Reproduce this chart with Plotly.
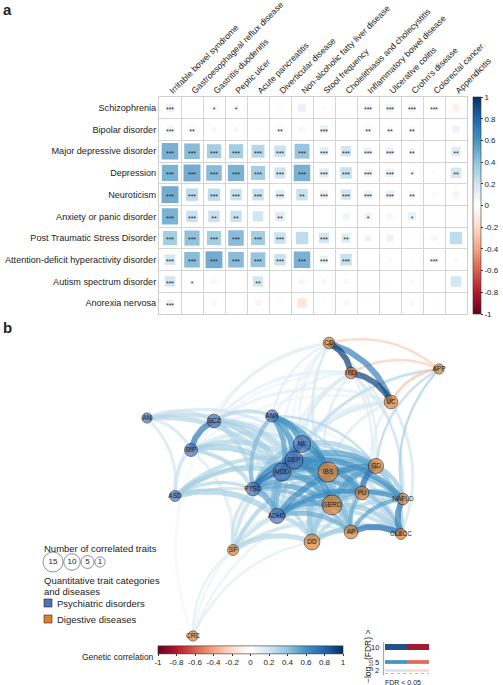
import numpy as np
import plotly.graph_objects as go
from plotly.colors import sample_colorscale

# ---- data ----
psych_names = ["Schizophrenia", "Bipolar disorder", "Major depressive disorder", "Depression",
               "Neuroticism", "Anxiety or panic disorder", "Post Traumatic Stress Disorder",
               "Attention-deficit hyperactivity disorder", "Autism spectrum disorder", "Anorexia nervosa"]
psych_abbr = ["SCZ", "BIP", "MDD", "DEP", "NE", "ANX", "PTSD", "ADHD", "ASD", "AN"]

digest_names = ["Irritable bowel syndrome", "Gastroesophageal reflux disease", "Gastritis-duodenitis",
                "Peptic ulcer", "Acute pancreatitis", "Diverticular disease",
                "Non-alcoholic fatty liver disease", "Stool frequency",
                "Cholelithiasis and cholecystitis", "Inflammatory bowel disease", "Ulcerative colitis",
                "Crohn's disease", "Colorectal cancer", "Appendicitis"]
digest_abbr = ["IBS", "GERD", "GD", "PU", "AP", "DD", "NAFLD", "SF", "CL&CC", "IBD", "UC", "CD", "CRC", "APP"]

# genetic correlation, rows = psychiatric, cols = digestive
rg = [
    [0.14, 0.02, 0.08, 0.08, 0.02, 0.03, 0.14, 0.04, -0.02, 0.12, 0.12, 0.13, 0.05, -0.12],
    [0.10, 0.08, 0.06, 0.06, 0.04, 0.08, 0.08, 0.15, 0.00, 0.08, 0.08, 0.08, 0.00, 0.12],
    [0.62, 0.55, 0.45, 0.45, 0.38, 0.30, 0.50, 0.18, 0.25, 0.13, 0.14, 0.10, 0.01, 0.20],
    [0.60, 0.65, 0.55, 0.60, 0.45, 0.28, 0.62, 0.20, 0.30, 0.14, 0.15, 0.08, 0.03, 0.25],
    [0.65, 0.35, 0.35, 0.30, 0.30, 0.20, 0.30, 0.15, 0.25, 0.15, 0.15, 0.10, 0.05, 0.10],
    [0.60, 0.30, 0.30, 0.30, 0.25, 0.20, 0.00, 0.02, 0.10, 0.12, 0.08, 0.15, 0.00, -0.05],
    [0.45, 0.52, 0.45, 0.55, 0.45, 0.30, 0.35, 0.25, 0.20, 0.10, 0.12, 0.02, 0.08, 0.35],
    [0.25, 0.55, 0.65, 0.55, 0.50, 0.30, 0.62, 0.15, 0.30, 0.02, 0.05, 0.02, 0.08, 0.05],
    [0.25, 0.05, 0.08, 0.00, 0.25, 0.04, 0.08, 0.06, 0.06, -0.04, -0.03, -0.06, 0.00, 0.25],
    [0.12, 0.00, -0.06, -0.02, -0.08, -0.04, -0.20, 0.03, -0.07, 0.03, 0.00, 0.06, -0.04, -0.02],
]

# -log10(FDR) for the same cells
nlog_fdr = [
    [4.0, 0.3, 1.5, 1.5, 0.2, 0.5, 1.0, 0.5, 0.1, 4.0, 3.5, 3.5, 3.2, 0.8],
    [3.5, 2.2, 1.0, 0.9, 0.5, 2.3, 1.0, 4.0, 0.0, 2.2, 2.1, 2.1, 0.0, 1.1],
    [10, 10, 8, 8, 6, 6, 8, 4, 6, 4, 4, 2.5, 0.1, 2.5],
    [10, 10, 10, 10, 7, 6, 9, 4, 7, 4, 4, 1.6, 0.3, 2.5],
    [10, 10, 8, 7, 6, 5, 2.5, 4, 7, 4, 4, 2.5, 0.5, 1.0],
    [8, 4, 2.5, 2.5, 1.1, 2.3, 0.0, 0.1, 0.9, 1.5, 0.9, 1.5, 0.0, 0.3],
    [6, 8, 6, 6, 5, 4, 1.2, 3.5, 2.5, 0.9, 1.0, 0.1, 0.5, 1.2],
    [4, 10, 10, 8, 7, 6, 7, 3.5, 6, 0.1, 0.4, 0.1, 3.2, 0.3],
    [3.5, 1.5, 0.6, 0.0, 2.5, 0.2, 0.5, 0.5, 0.4, 0.3, 0.2, 0.5, 0.0, 1.0],
    [3.2, 0.0, 0.5, 0.1, 0.6, 0.3, 1.0, 0.2, 0.6, 0.2, 0.0, 0.5, 0.3, 0.1],
]

# correlations within psychiatric traits and within digestive traits: (a, b, rg, -log10 FDR)
within_edges = [
    ("MDD", "DEP", 0.90, 10), ("DEP", "NE", 0.70, 10), ("MDD", "NE", 0.65, 10),
    ("MDD", "PTSD", 0.75, 10), ("DEP", "PTSD", 0.70, 10), ("ANX", "DEP", 0.60, 10),
    ("ANX", "NE", 0.60, 10), ("ANX", "MDD", 0.55, 8), ("SCZ", "BIP", 0.70, 10),
    ("SCZ", "MDD", 0.35, 10), ("SCZ", "DEP", 0.30, 8), ("SCZ", "ANX", 0.30, 5),
    ("SCZ", "PTSD", 0.30, 6), ("SCZ", "ADHD", 0.15, 3), ("SCZ", "AN", 0.20, 5),
    ("SCZ", "ASD", 0.20, 5), ("BIP", "MDD", 0.35, 10), ("BIP", "DEP", 0.30, 8),
    ("BIP", "NE", 0.20, 6), ("BIP", "ADHD", 0.15, 3), ("BIP", "AN", 0.20, 4),
    ("BIP", "ASD", 0.15, 3), ("BIP", "PTSD", 0.30, 5), ("AN", "MDD", 0.30, 8),
    ("AN", "DEP", 0.25, 6), ("AN", "NE", 0.20, 4), ("AN", "ASD", 0.20, 3),
    ("ASD", "ADHD", 0.35, 10), ("ASD", "MDD", 0.35, 8), ("ASD", "DEP", 0.30, 6),
    ("ASD", "PTSD", 0.30, 4), ("ADHD", "MDD", 0.45, 10), ("ADHD", "DEP", 0.45, 10),
    ("ADHD", "PTSD", 0.55, 10), ("ADHD", "NE", 0.30, 8), ("ADHD", "ANX", 0.30, 5),
    ("PTSD", "NE", 0.40, 8), ("PTSD", "ANX", 0.45, 6),
    ("CD", "IBD", 0.95, 10), ("IBD", "UC", 0.95, 10), ("CD", "UC", 0.70, 10),
    ("CD", "APP", -0.25, 2), ("IBD", "APP", -0.25, 2.5), ("UC", "APP", -0.30, 2.5),
    ("APP", "NAFLD", 0.35, 2), ("APP", "GD", 0.30, 2), ("GD", "PU", 0.75, 10),
    ("GD", "GERD", 0.55, 10), ("PU", "GERD", 0.45, 8), ("IBS", "GERD", 0.45, 10),
    ("IBS", "GD", 0.40, 8), ("IBS", "PU", 0.35, 6), ("IBS", "DD", 0.40, 10),
    ("IBS", "SF", 0.35, 6), ("IBS", "CD", 0.20, 3), ("IBS", "IBD", 0.15, 3),
    ("IBS", "UC", 0.15, 3), ("IBS", "NAFLD", 0.30, 5), ("IBS", "AP", 0.25, 4),
    ("IBS", "CL&CC", 0.25, 4), ("GERD", "DD", 0.35, 8), ("GERD", "AP", 0.35, 6),
    ("GERD", "NAFLD", 0.40, 8), ("GERD", "CL&CC", 0.35, 8), ("GD", "NAFLD", 0.40, 6),
    ("GD", "AP", 0.35, 5), ("GD", "CL&CC", 0.40, 6), ("PU", "AP", 0.50, 6),
    ("PU", "NAFLD", 0.40, 5), ("PU", "CL&CC", 0.40, 5), ("AP", "CL&CC", 0.75, 10),
    ("NAFLD", "CL&CC", 0.70, 10), ("NAFLD", "AP", 0.55, 6), ("DD", "AP", 0.30, 6),
    ("DD", "CL&CC", 0.35, 8), ("DD", "NAFLD", 0.30, 6), ("DD", "SF", 0.30, 8),
    ("DD", "GD", 0.30, 6), ("SF", "GERD", 0.25, 5), ("SF", "AP", 0.20, 3),
    ("SF", "CL&CC", 0.20, 4), ("SF", "CRC", 0.15, 1.5), ("CRC", "DD", 0.15, 1.5),
    ("CRC", "GERD", 0.12, 1.5), ("CD", "GD", 0.15, 2), ("CD", "NAFLD", 0.20, 2),
    ("IBD", "NAFLD", 0.20, 2), ("UC", "GD", 0.15, 2), ("UC", "CL&CC", 0.20, 3),
    ("IBD", "PU", 0.15, 2),
]

# number of significantly correlated traits per node
n_correlated = {"IBS": 15, "GERD": 15, "DEP": 12, "MDD": 12, "NE": 11, "DD": 9, "GD": 8,
                "ADHD": 8, "UC": 6, "PU": 6, "PTSD": 6, "SCZ": 6, "AP": 6, "BIP": 5,
                "ANX": 4, "CD": 3, "IBD": 3, "NAFLD": 3, "ASD": 2, "CL&CC": 2, "SF": 2,
                "AN": 1, "APP": 1, "CRC": 1}

# network layout (pixel space of the page)
layout_xy = {"CD": (329, 343), "IBD": (351, 373), "UC": (391, 402), "APP": (439, 369),
             "AN": (147, 418), "SCZ": (214, 421), "ANX": (272, 416), "BIP": (191, 450),
             "NE": (302, 444), "DEP": (294, 460), "MDD": (282, 472), "IBS": (328, 472),
             "GD": (376, 466), "PU": (362, 493), "PTSD": (253, 489), "ASD": (175, 496),
             "NAFLD": (403, 499), "GERD": (332, 505), "ADHD": (277, 516), "AP": (351, 532),
             "CL&CC": (401, 534), "DD": (312, 542), "SF": (233, 550), "CRC": (193, 636)}

legend_counts = [15, 10, 5, 1]
fdr_legend = [10, 5, 2]

# ---- styling ----
FONT = "Liberation Sans, Arial, sans-serif"
CS = [[0.0, "#67001F"], [0.1, "#B2182B"], [0.2, "#D6604D"], [0.3, "#F4A582"], [0.4, "#FDDBC7"],
      [0.5, "#FFFFFF"], [0.6, "#D1E5F0"], [0.7, "#92C5DE"], [0.8, "#4393C3"], [0.9, "#2166AC"],
      [1.0, "#053061"]]
BLUE = "#4d72b6"
ORANGE = "#e07f2c"
W, H = 503, 685
CB_TICKS = dict(tickvals=np.round(np.arange(-1, 1.01, 0.2), 1),
                ticktext=["-1", "-0.8", "-0.6", "-0.4", "-0.2", "0", "0.2", "0.4", "0.6", "0.8", "1"],
                ticks="outside", ticklen=2, tickwidth=0.6, tickcolor="#333",
                tickfont=dict(size=8, color="#222"),
                outlinewidth=0.6, outlinecolor="#333", thickness=8)


def node_size(n):
    return 9.5 + 0.7 * n


def edge_width(fdr):
    return 1.5 + 0.45 * min(fdr, 10)


def stars(v):
    if v >= 3:
        return "***"
    if v >= 2:
        return "**"
    if v >= 1.3:
        return "*"
    return " "


fig = go.Figure()

# ---- panel a: corrplot ----
rg_arr = np.array(rg)
fdr_arr = np.array(nlog_fdr)
cx, cy = np.meshgrid(np.arange(len(digest_abbr)), np.arange(len(psych_abbr)))
fig.add_trace(go.Scatter(
    x=cx.ravel(), y=cy.ravel(), mode="markers",
    marker=dict(symbol="square", size=21 * np.sqrt(np.abs(rg_arr.ravel())),
                color=rg_arr.ravel(), colorscale=CS, cmin=-1, cmax=1, line=dict(width=0),
                showscale=True,
                colorbar=dict(x=473 / W, xanchor="left", xpad=0, y=1 - 205.5 / H, yanchor="middle",
                              ypad=0, len=217 / H, **CB_TICKS)),
    hoverinfo="skip", xaxis="x", yaxis="y", showlegend=False))
fig.add_trace(go.Scatter(
    x=cx.ravel(), y=cy.ravel() + 0.12, mode="text",
    text=[stars(v) for v in fdr_arr.ravel()],
    textfont=dict(size=7, color="#2a2a2a"), hoverinfo="skip",
    xaxis="x", yaxis="y", showlegend=False))

# ---- panel b: network ----
edges = []
for i, a in enumerate(psych_abbr):
    for j, b in enumerate(digest_abbr):
        if nlog_fdr[i][j] >= 1.3:
            edges.append((a, b, rg[i][j], nlog_fdr[i][j]))
edges += within_edges
edges.sort(key=lambda e: abs(e[2]))

t = np.linspace(0, 1, 30)
mid_x, mid_y, mid_c = [], [], []
for a, b, r, fdr in edges:
    p0, p1 = np.array(layout_xy[a], float), np.array(layout_xy[b], float)
    if p0[0] > p1[0]:
        p0, p1 = p1, p0
    d = p1 - p0
    ctrl = (p0 + p1) / 2 + 0.25 * np.array([d[1], -d[0]])
    pts = ((1 - t) ** 2)[:, None] * p0 + (2 * (1 - t) * t)[:, None] * ctrl + (t ** 2)[:, None] * p1
    col = sample_colorscale(CS, [(r + 1) / 2])[0]
    fig.add_trace(go.Scatter(x=pts[:, 0], y=pts[:, 1], mode="lines",
                             line=dict(color=col, width=edge_width(fdr)),
                             opacity=0.68, hoverinfo="skip", showlegend=False,
                             xaxis="x2", yaxis="y2"))
    mid_x.append(pts[15, 0]); mid_y.append(pts[15, 1]); mid_c.append(r)

# invisible markers carrying the edge colour bar
fig.add_trace(go.Scatter(
    x=mid_x, y=mid_y, mode="markers",
    marker=dict(size=1, opacity=0, color=mid_c, colorscale=CS, cmin=-1, cmax=1, showscale=True,
                colorbar=dict(orientation="h", x=250.5 / W, xanchor="center", xpad=0,
                              y=1 - 656.5 / H, yanchor="middle", ypad=0, len=185 / W, **CB_TICKS)),
    hoverinfo="skip", showlegend=False, xaxis="x2", yaxis="y2"))

nodes = psych_abbr + digest_abbr
fig.add_trace(go.Scatter(
    x=[layout_xy[n][0] for n in nodes], y=[layout_xy[n][1] for n in nodes],
    mode="markers+text", text=nodes, textposition="middle center",
    textfont=dict(size=6.5, color="#222"),
    marker=dict(size=[node_size(n_correlated[n]) for n in nodes],
                color=[BLUE] * len(psych_abbr) + [ORANGE] * len(digest_abbr),
                line=dict(color="#1a1a1a", width=0.8)),
    hoverinfo="skip", showlegend=False, xaxis="x2", yaxis="y2"))

# size legend
fig.add_trace(go.Scatter(
    x=[53, 72, 87.5, 100], y=[562] * 4, mode="markers+text",
    text=[str(c) for c in legend_counts], textposition="middle center",
    textfont=dict(size=8, color="#222"),
    marker=dict(size=[node_size(c) for c in legend_counts], color="white",
                line=dict(color="#222", width=0.7)),
    hoverinfo="skip", showlegend=False, xaxis="x2", yaxis="y2"))
# group legend
fig.add_trace(go.Scatter(
    x=[48, 48], y=[603, 619], mode="markers",
    marker=dict(symbol="square", size=8, color=[BLUE, ORANGE], line=dict(color="#222", width=0.6)),
    hoverinfo="skip", showlegend=False, xaxis="x2", yaxis="y2"))

# FDR width legend
fdr_rows = [(647, "#24508c", "#a5182f"), (662, "#4a91c7", "#dd6c5a"), (670.5, "#cfe4f0", "#f8d8c9")]
for v, (yy, cb, cr) in zip(fdr_legend, fdr_rows):
    fig.add_trace(go.Scatter(x=[385, 407], y=[yy, yy], mode="lines",
                             line=dict(color=cb, width=edge_width(v)),
                             hoverinfo="skip", showlegend=False, xaxis="x2", yaxis="y2"))
    fig.add_trace(go.Scatter(x=[407, 429], y=[yy, yy], mode="lines",
                             line=dict(color=cr, width=edge_width(v)),
                             hoverinfo="skip", showlegend=False, xaxis="x2", yaxis="y2"))
fig.add_trace(go.Scatter(x=[385, 429], y=[673.5, 673.5], mode="lines",
                         line=dict(color="#aaa", width=0.8, dash="dot"),
                         hoverinfo="skip", showlegend=False, xaxis="x2", yaxis="y2"))
fig.add_trace(go.Scatter(x=[383.5, 383.5], y=[642, 675], mode="lines", line=dict(color="#aaa", width=1.2),
                         hoverinfo="skip", showlegend=False, xaxis="x2", yaxis="y2"))

ann = []


def txt(x, y, s, size=9.5, anchor="left", **kw):
    ann.append(dict(x=x, y=y, xref="x2", yref="y2", text=s, showarrow=False, xanchor=anchor,
                    yanchor="middle", font=dict(size=size, color="#222", family=FONT), **kw))


txt(1, 9, "<b>a</b>", size=15)
txt(1, 327, "<b>b</b>", size=15)
txt(42, 548, "Number of correlated traits")
txt(42, 580, "Quantitative trait categories")
txt(42, 591, "and diseases")
txt(55, 603, "Psychiatric disorders")
txt(55, 619, "Digestive diseases")
txt(156, 657, "Genetic correlation", size=8.5, anchor="right")
for v, (yy, _, _) in zip(fdr_legend, fdr_rows):
    txt(381, yy, str(v), size=7.5, anchor="right")
txt(368, 657, "−log<sub>10</sub>(FDR) >", size=8.5, anchor="center", textangle=-90)
txt(403, 682, "FDR < 0.05", size=7, anchor="center")

fig.update_layout(
    width=W, height=H, margin=dict(l=0, r=0, t=0, b=0, autoexpand=False),
    paper_bgcolor="white", plot_bgcolor="rgba(0,0,0,0)",
    font=dict(family=FONT, color="#222"),
    annotations=ann,
    xaxis=dict(domain=[159 / W, 467 / W], range=[-0.5, len(digest_abbr) - 0.5], side="top",
               tickvals=list(range(len(digest_abbr))), ticktext=digest_names, tickangle=-45,
               tickfont=dict(size=8.6, color="#222"), showgrid=False, zeroline=False,
               showline=True, mirror=True, linecolor="#cfcfcf", linewidth=1, ticks="",
               ticklabelstandoff=-3, automargin=False,
               minor=dict(tickvals=np.arange(0.5, len(digest_abbr) - 1, 1), showgrid=True,
                          gridcolor="#d4d4d4", gridwidth=1),
               anchor="y"),
    yaxis=dict(domain=[1 - 314 / H, 1 - 97 / H], range=[len(psych_abbr) - 0.5, -0.5],
               tickvals=list(range(len(psych_abbr))), ticktext=psych_names,
               tickfont=dict(size=9.1, color="#222"), showgrid=False, zeroline=False,
               showline=True, mirror=True, linecolor="#cfcfcf", linewidth=1, ticks="",
               automargin=False,
               minor=dict(tickvals=np.arange(0.5, len(psych_abbr) - 1, 1), showgrid=True,
                          gridcolor="#d4d4d4", gridwidth=1),
               anchor="x"),
    xaxis2=dict(domain=[0, 1], range=[0, W], visible=False, anchor="y2"),
    yaxis2=dict(domain=[0, 1], range=[H, 0], visible=False, anchor="x2"),
)

# the page body has a default 8px margin; drop it so the figure fills the window
fig.write_html("out.html", config={"displayModeBar": False},
               post_script="document.body.style.margin = '0';")
